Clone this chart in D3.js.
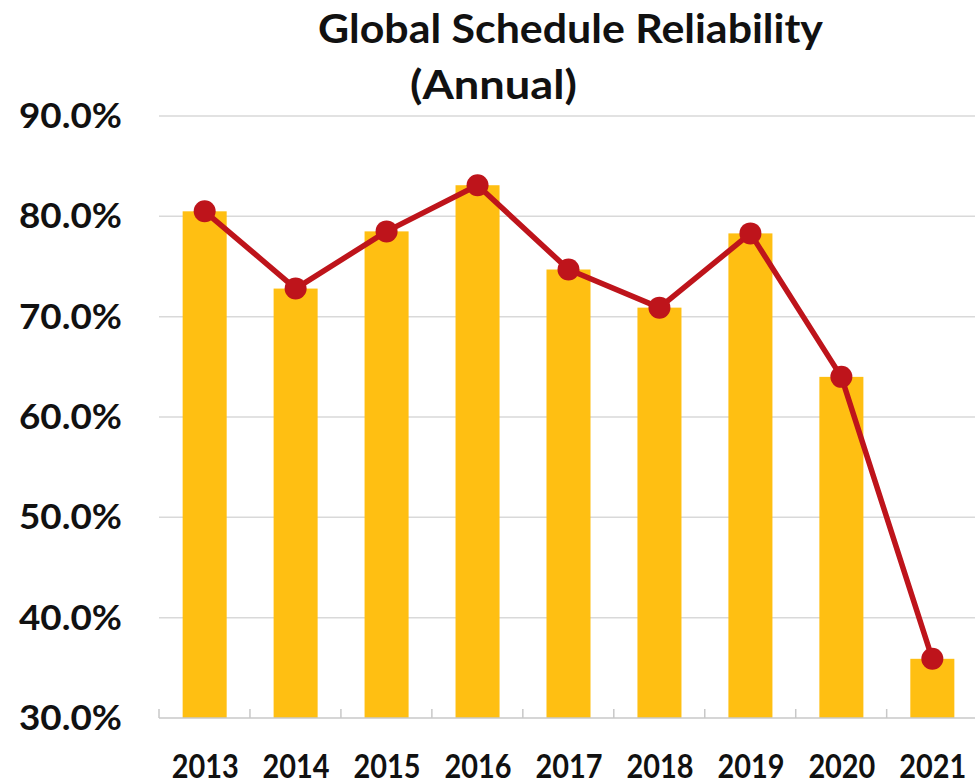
<!DOCTYPE html>
<html>
<head>
<meta charset="utf-8">
<script src="https://cdn.jsdelivr.net/npm/d3@7"></script>
<style>
  body { margin: 0; background: #fff; }
  text { font-family: Lato, "Open Sans", sans-serif; font-weight: 700; fill: #111; }
</style>
</head>
<body>
<div id="chart"></div>
<script>
const years = ["2013", "2014", "2015", "2016", "2017", "2018", "2019", "2020", "2021"];
const reliability = [80.5, 72.8, 78.5, 83.1, 74.7, 70.9, 78.3, 64.0, 35.9];
const yTicks = [30, 40, 50, 60, 70, 80, 90];
const titleLines = ["Global Schedule Reliability", "(Annual)"];

const width = 975, height = 784;
const marginLeft = 159, marginRight = -3, marginTop = 116, marginBottom = 66;

const data = years.map((y, i) => ({year: y, value: reliability[i]}));

const svg = d3.select("#chart").append("svg")
    .attr("width", width)
    .attr("height", height)
    .attr("viewBox", [0, 0, width, height]);

const x = d3.scaleBand()
    .domain(years)
    .range([marginLeft, width - marginRight])
    .paddingInner(0.516)
    .paddingOuter(0.26);

const y = d3.scaleLinear()
    .domain([30, 90])
    .range([height - marginBottom, marginTop]);

// gridlines
svg.append("g")
    .attr("stroke", "#d9d9d9")
    .attr("stroke-width", 1.5)
  .selectAll("line")
  .data(yTicks.filter(d => d > 30))
  .join("line")
    .attr("x1", marginLeft)
    .attr("x2", width)
    .attr("y1", d => y(d))
    .attr("y2", d => y(d));

// y labels
svg.append("g")
  .selectAll("text")
  .data(yTicks)
  .join("text")
    .attr("x", 19)
    .attr("y", d => y(d) + 12)
    .attr("font-size", 35)
    .attr("textLength", 103)
    .attr("lengthAdjust", "spacingAndGlyphs")
    .text(d => d3.format(".1f")(d) + "%");

// bars
svg.append("g")
    .attr("fill", "#FFBF12")
  .selectAll("rect")
  .data(data)
  .join("rect")
    .attr("x", d => x(d.year))
    .attr("width", x.bandwidth())
    .attr("y", d => y(d.value))
    .attr("height", d => y(30) - y(d.value));

// baseline + category ticks
const xAxis = svg.append("g").attr("stroke", "#c8c8c8").attr("stroke-width", 1.5);
xAxis.append("line")
    .attr("x1", marginLeft).attr("x2", width)
    .attr("y1", y(30)).attr("y2", y(30));
xAxis.selectAll(".tick")
  .data(d3.range(years.length + 1))
  .join("line")
    .attr("class", "tick")
    .attr("x1", i => x.range()[0] + i * x.step())
    .attr("x2", i => x.range()[0] + i * x.step())
    .attr("y1", y(30))
    .attr("y2", y(30) - 9);

// x labels
svg.append("g")
  .selectAll("text")
  .data(years)
  .join("text")
    .attr("x", d => x(d) + x.bandwidth() / 2 - 33)
    .attr("y", 778)
    .attr("font-size", 32)
    .attr("textLength", 67)
    .attr("lengthAdjust", "spacingAndGlyphs")
    .text(d => d);

// line + dots
const line = d3.line()
    .x(d => x(d.year) + x.bandwidth() / 2)
    .y(d => y(d.value));

svg.append("path")
    .datum(data)
    .attr("fill", "none")
    .attr("stroke", "#BE141B")
    .attr("stroke-width", 5.5)
    .attr("stroke-linejoin", "round")
    .attr("d", line);

svg.append("g")
    .attr("fill", "#BE141B")
  .selectAll("circle")
  .data(data)
  .join("circle")
    .attr("cx", d => x(d.year) + x.bandwidth() / 2)
    .attr("cy", d => y(d.value))
    .attr("r", 11);

// title
svg.append("text")
    .attr("x", 318).attr("y", 43)
    .attr("font-size", 40)
    .attr("textLength", 505)
    .attr("lengthAdjust", "spacingAndGlyphs")
    .text(titleLines[0]);
svg.append("text")
    .attr("x", 410).attr("y", 99)
    .attr("font-size", 40)
    .attr("textLength", 167)
    .attr("lengthAdjust", "spacingAndGlyphs")
    .text(titleLines[1]);
</script>
</body>
</html>
